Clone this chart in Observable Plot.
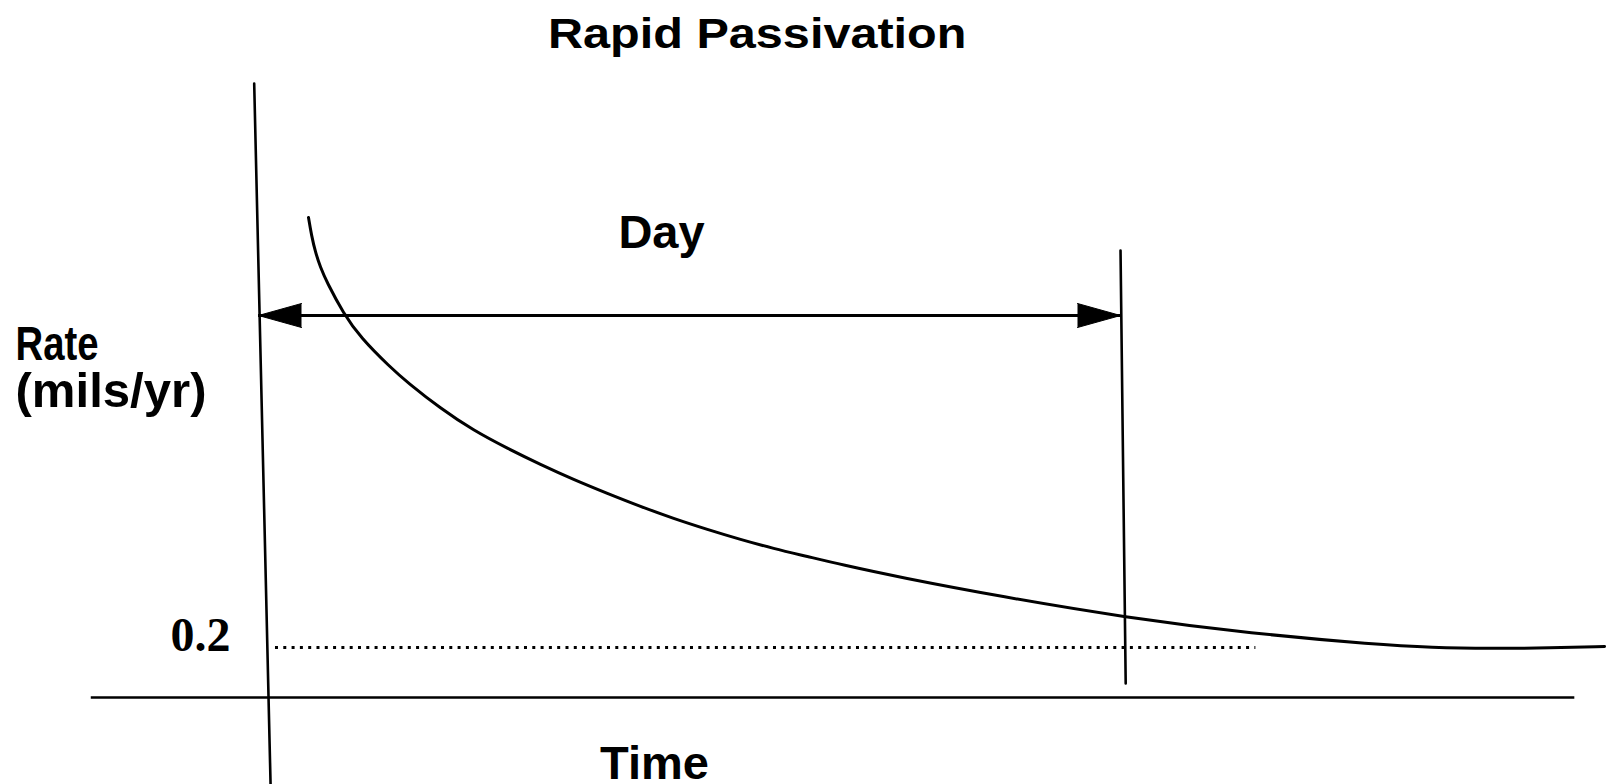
<!DOCTYPE html>
<html><head><meta charset="utf-8">
<script src="https://cdn.jsdelivr.net/npm/d3@7"></script>
<script src="https://cdn.jsdelivr.net/npm/@observablehq/plot@0.6"></script>
<style>
html,body{margin:0;padding:0;background:#fff;}
#title{height:70px;width:1514px;text-align:center;font-family:"Liberation Sans",Arial,sans-serif;font-weight:bold;font-size:43px;line-height:43px;padding-top:12px;box-sizing:border-box;color:#000;}
#title span{display:inline-block;transform:scaleX(1.13);}
#chart svg{display:block;}
</style></head><body>
<div id="title"><span>Rapid Passivation</span></div>
<div id="chart"></div>
<script>
// Corrosion rate curve (time in days, rate in mils/yr)
const curveTime = [0.0580, 0.0615, 0.0661, 0.0719, 0.0789, 0.0986, 0.1183, 0.1531, 0.1729, 0.2111, 0.2494, 0.2889, 0.3271, 0.3654, 0.4049, 0.4432, 0.4814, 0.5209, 0.5592, 0.5974, 0.6369, 0.6752, 0.7448, 0.8608, 1.0058, 1.1520, 1.2970, 1.3608, 1.4292, 1.4988, 1.5615];
const curveRate = [1.920, 1.848, 1.780, 1.720, 1.664, 1.536, 1.440, 1.320, 1.260, 1.156, 1.068, 0.996, 0.932, 0.872, 0.816, 0.764, 0.716, 0.672, 0.632, 0.596, 0.564, 0.532, 0.480, 0.404, 0.320, 0.256, 0.212, 0.200, 0.196, 0.198, 0.204];

// Axes drawn as lines (the scanned y axis leans slightly)
const yAxisTime = [-0.005, 0.014];
const yAxisRate = [2.456, -0.348];
const xAxisTime = [-0.194, 1.527];
const xAxisRate = 0;

// One-day marker
const dayStart = 0;
const dayEnd = 1;
const dayArrowRate = 1.528;
const dayLineTime = [1.0, 1.006];
const dayLineRate = [1.788, 0.056];

// Passivation threshold
const thresholdRate = 0.2;
const thresholdTime = [0.0197, 1.157];
const thresholdLabel = "0.2";

const titleText = "Rapid Passivation";
const dayLabel = "Day";
const xLabel = "Time";
const yLabelLines = ["Rate", "(mils/yr)"];

document.querySelector("#title span").textContent = titleText;

const curve = curveTime.map((t, i) => ({t, r: curveRate[i]}));
const yAxis = yAxisTime.map((t, i) => ({t, r: yAxisRate[i]}));
const dayLine = dayLineTime.map((t, i) => ({t, r: dayLineRate[i]}));
const heads = [{t: dayStart, r: dayArrowRate, rot: -90}, {t: dayEnd, r: dayArrowRate, rot: 90}];
const dayMid = (dayStart + dayEnd) / 2;

const sans = "'Liberation Sans', Arial, Helvetica, sans-serif";
const serif = "'Liberation Serif', 'Times New Roman', serif";

const chart = Plot.plot({
  width: 1615,
  height: 714,
  margin: 0,
  style: {background: "#fff", color: "#000", overflow: "visible"},
  x: {domain: [-0.2993, 1.5742], axis: null},
  y: {domain: [-0.348, 2.508], axis: null},
  marks: [
    Plot.line(yAxis, {x: "t", y: "r", stroke: "#000", strokeWidth: 2.6}),
    Plot.ruleY([{r: xAxisRate, t1: xAxisTime[0], t2: xAxisTime[1]}], {y: "r", x1: "t1", x2: "t2", stroke: "#000", strokeWidth: 2.6}),
    Plot.ruleY([{r: thresholdRate, t1: thresholdTime[0], t2: thresholdTime[1]}], {y: "r", x1: "t1", x2: "t2", stroke: "#000", strokeWidth: 3, strokeDasharray: "3,5.3"}),
    Plot.line(dayLine, {x: "t", y: "r", stroke: "#000", strokeWidth: 2.6}),
    Plot.ruleY([{r: dayArrowRate, t1: dayStart, t2: dayEnd}], {y: "r", x1: "t1", x2: "t2", stroke: "#000", strokeWidth: 3.2}),
    Plot.vector(heads, {x: "t", y: "r", rotate: "rot", shape: "spike", length: 43, r: 12, anchor: "end", fill: "#000", stroke: "#000", strokeWidth: 1}),
    Plot.line(curve, {x: "t", y: "r", curve: "basis", stroke: "#000", strokeWidth: 3}),
    Plot.text([thresholdLabel], {x: () => dayStart, y: () => thresholdRate, text: d => d, textAnchor: "end", lineAnchor: "bottom", dx: -28, dy: 3, fontFamily: serif, fontWeight: "bold", fontSize: 48, fill: "#000"}),
    Plot.text([dayLabel], {x: () => dayMid, y: () => dayArrowRate, text: d => d, textAnchor: "middle", lineAnchor: "bottom", dx: -28, dy: -68, fontFamily: sans, fontWeight: "bold", fontSize: 47, fill: "#000"}),
    Plot.text([xLabel], {x: () => dayMid, frameAnchor: "bottom", text: d => d, textAnchor: "middle", lineAnchor: "bottom", dx: -35, dy: -6, fontFamily: sans, fontWeight: "bold", fontSize: 47, fill: "#000"}),
    Plot.text([yLabelLines[0]], {frameAnchor: "top-left", text: d => d, textAnchor: "start", lineAnchor: "bottom", dx: 15, dy: 289, fontFamily: sans, fontWeight: "bold", fontSize: 49, fill: "#000"}),
    Plot.text([yLabelLines[1]], {frameAnchor: "top-left", text: d => d, textAnchor: "start", lineAnchor: "bottom", dx: 15, dy: 336, fontFamily: sans, fontWeight: "bold", fontSize: 49, fill: "#000"})
  ]
});
// match the scanned label widths
const widths = {"Rate": 83, "(mils/yr)": 191};
d3.select(chart).selectAll("text").each(function() {
  const w = widths[this.textContent];
  if (w) { this.setAttribute("textLength", w); this.setAttribute("lengthAdjust", "spacingAndGlyphs"); }
});
document.getElementById("chart").appendChild(chart);
</script>
</body></html>
